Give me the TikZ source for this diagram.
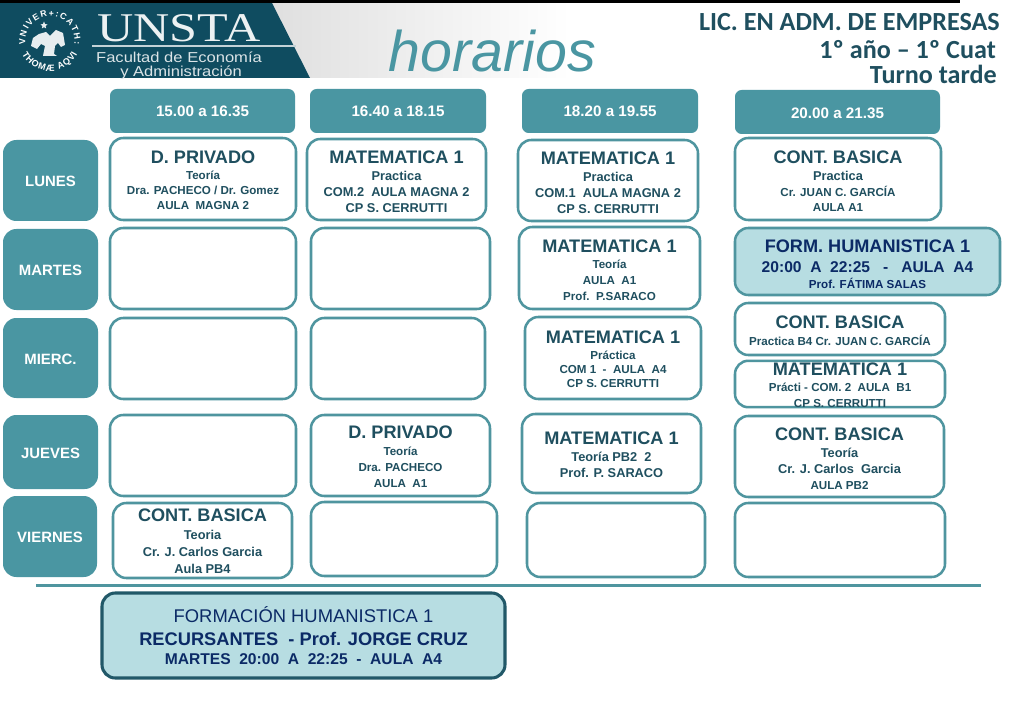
\documentclass[tikz,border=0pt]{standalone}
\usepackage{fontspec}
\setmainfont{Liberation Sans}
\newfontfamily\carlito{Carlito}
\newfontfamily\lserif{Liberation Serif}
\usetikzlibrary{decorations.text}
\definecolor{tealbox}{HTML}{4A96A2}
\definecolor{tealline}{HTML}{4F959F}
\definecolor{darktxt}{HTML}{1F4F5F}
\definecolor{navytxt}{HTML}{0B2A66}
\definecolor{palefill}{HTML}{B7DDE2}
\definecolor{banner}{HTML}{0F4C60}
\definecolor{darkline}{HTML}{215868}
\newcommand{\tA}{\fontsize{13.6}{15}\bfseries\selectfont}
\newcommand{\tB}{\fontsize{9.6}{12}\bfseries\selectfont}
\newcommand{\tC}{\fontsize{8.7}{12}\bfseries\selectfont}
% \dn{n}: moves the text block of a box down by n/2 pt
\newcommand{\dn}[1]{\rule{0pt}{\dimexpr 9.74pt+#1pt\relax}}
\newcommand{\dday}{\rule{0pt}{9.5pt}}
\tikzset{
  x=0.75pt,y=-0.75pt,
  cellbox/.style={draw=tealline,line width=1.9pt,fill=white,rounded corners=10pt,inner sep=0pt,align=center,text=darktxt},
  headbox/.style={fill=tealbox,rounded corners=5pt,inner sep=0pt,text=white,font=\fontsize{11.4}{13}\bfseries\selectfont},
  daybox/.style={fill=tealbox,rounded corners=10pt,inner sep=0pt,text=white,font=\fontsize{11.2}{13}\bfseries\selectfont},
  humbox/.style={cellbox,fill=palefill,text=navytxt},
  recbox/.style={humbox,draw=darkline,line width=2.3pt},
  titletxt/.style={text=darktxt,inner sep=0pt,anchor=east,font=\carlito\fontsize{19.6}{22}\bfseries\selectfont},
  logotxt/.style={inner sep=0pt,xscale=1.15,text=white!85!banner,font=\fontsize{10.8}{11}\selectfont},
  sealtxt/.style={postaction={decorate,decoration={text along path,text align={fit to path},text={#1}}}},
}
% #1 style, #2 name, #3 x0, #4 y0, #5 x1, #6 y1, #7 content
\newcommand{\pxnode}[7]{%
  \pgfmathsetmacro{\cxx}{(#3+#5)/2}\pgfmathsetmacro{\cyy}{(#4+#6)/2}%
  \pgfmathsetmacro{\wdd}{(#5-#3)*0.75}\pgfmathsetmacro{\htt}{(#6-#4)*0.75}%
  \node[#1,minimum width=\wdd pt,minimum height=\htt pt] (#2) at (\cxx,\cyy) {#7};}
\begin{document}
\begin{tikzpicture}
\useasboundingbox (0,0) rectangle (1024,709);
\fill[white] (0,0) rectangle (1024,709);
% banner
\shade[left color=gray!25,right color=white] (270,3) rectangle (570,78);
\fill[banner] (0,3) -- (272,3) -- (310,78) -- (0,78) -- cycle;
\fill[black] (0,0) rectangle (960,3);
\draw[white!75!banner,line width=0.8pt] (92,46) -- (296,46);
\node[inner sep=0pt,xscale=1.23,text=white!92!banner,font=\lserif\fontsize{30.6}{32}\selectfont] (unsta) at (179,28) {UNSTA};
\node[logotxt] (fac) at (179,57.5) {Facultad de Economía};
\node[logotxt] (adm) at (181,72.5) {y Administración};
% seal
\path[sealtxt={|\fontsize{6.6}{8}\bfseries\selectfont\color{white}|VNIVER+:CATH:}]
   (25.6,44.4) arc[start angle=172,end angle=368,radius=24.6];
\path[sealtxt={|\fontsize{6.8}{8}\bfseries\selectfont\color{white}|THOMÆ AQVI}]
   (22,54) arc[start angle=153,end angle=27,radius=31];
\fill[white!90!banner] (46,32) -- (50,36) -- (56,30) -- (63,33) -- (65,45) -- (61,47) -- (58,43) -- (55,46)
   -- (54,54) -- (57,56) -- (43,56) -- (45,46) -- (41,44) -- (37,49) -- (31,46) -- (33,38) -- (39,34) -- cycle;
\fill[white!90!banner] (44,21.5) -- (45,24) -- (47.5,24.5) -- (45.6,26) -- (46.2,28.5) -- (44,27.2) -- (41.8,28.5) -- (42.4,26) -- (40.5,24.5) -- (43,24) -- cycle;
\node[inner sep=0pt,text=tealbox,font=\fontsize{43}{45}\itshape\selectfont] (hor) at (492.5,51) {horarios};
\node[titletxt] (t1) at (1000,22) {LIC. EN ADM. DE EMPRESAS};
\node[titletxt] (t2) at (996,50) {1º año – 1º Cuat};
\node[titletxt] (t3) at (997,74) {Turno tarde};
% time heads
\pxnode{headbox}{h1}{110}{89}{295}{133}{15.00 a 16.35}
\pxnode{headbox}{h2}{310}{89}{486}{133}{16.40 a 18.15}
\pxnode{headbox}{h3}{522}{89}{698}{133}{18.20 a 19.55}
\pxnode{headbox}{h4}{735}{90}{940}{134}{\rule{0pt}{9.8pt}20.00 a 21.35}
% days
\pxnode{daybox}{d1}{3}{140}{98}{221}{\dday LUNES}
\pxnode{daybox}{d2}{3}{229}{98}{310}{\dday MARTES}
\pxnode{daybox}{d3}{3}{318}{98}{398}{\dday MIERC.}
\pxnode{daybox}{d4}{3}{415}{98}{489}{\dday JUEVES}
\pxnode{daybox}{d5}{3}{496}{97}{577}{\dday VIERNES}
% row 1
\pxnode{cellbox}{c11}{110}{138}{296}{220}{{\tA\dn{1.5}D. PRIVADO}\\[0pt]{\tC Teoría}\\[-.75pt]{\tC Dra. PACHECO / Dr. Gomez}\\[-.75pt]{\tC AULA~~MAGNA 2}}
\pxnode{cellbox}{c12}{307}{139}{486}{220}{{\tA\dn{3}MATEMATICA 1}\\[.75pt]{\tB Practica}\\[-.4pt]{\tB COM.2~~AULA MAGNA 2}\\[0pt]{\tB CP S. CERRUTTI}}
\pxnode{cellbox}{c13}{518}{140}{698}{221}{{\tA\dn{3}MATEMATICA 1}\\[.75pt]{\tB Practica}\\[-.4pt]{\tB COM.1~~AULA MAGNA 2}\\[0pt]{\tB CP S. CERRUTTI}}
\pxnode{cellbox}{c14}{735}{138}{941}{220}{{\tA\dn{3}CONT. BASICA}\\[.75pt]{\tB Practica}\\[-.4pt]{\tC Cr. JUAN C. GARCÍA}\\[-1pt]{\tC AULA A1}}
% row 2
\pxnode{cellbox}{c21}{110}{228}{296}{309}{}
\pxnode{cellbox}{c22}{311}{228}{490}{309}{}
\pxnode{cellbox}{c23}{519}{227}{700}{309}{{\tA\dn{3}MATEMATICA 1}\\[0pt]{\tC Teoría}\\[-.5pt]{\tC AULA~~A1}\\[0pt]{\tC Prof.~~P.SARACO}}
\pxnode{humbox}{c24}{735}{228}{1000}{295}{{\tA\dn{4.5}FORM. HUMANISTICA 1}\\[3pt]{\fontsize{11.7}{14}\bfseries\selectfont 20:00~~A~~22:25~~~-~~~AULA~~A4}\\[0pt]{\tC Prof. FÁTIMA SALAS}}
% row 3
\pxnode{cellbox}{c31}{110}{318}{296}{399}{}
\pxnode{cellbox}{c32}{311}{318}{485}{399}{}
\pxnode{cellbox}{c33}{525}{317}{701}{399}{{\tA\dn{1.5}MATEMATICA 1}\\[0pt]{\tC Práctica}\\[-1.5pt]{\tC COM 1~~-~~AULA~~A4}\\[-1.5pt]{\tC CP S. CERRUTTI}}
\pxnode{cellbox}{c34}{735}{303}{945}{355}{{\tA\dn{2.2}CONT. BASICA}\\[1pt]{\tC Practica B4 Cr. JUAN C. GARCÍA}}
\pxnode{cellbox}{c35}{735}{361}{945}{407}{{\tA\dn{1.5}MATEMATICA 1}\\[0pt]{\tC Prácti - COM. 2~~AULA~~B1}\\[-.5pt]{\tC CP S. CERRUTTI}}
% row 4
\pxnode{cellbox}{c41}{110}{415}{296}{496}{}
\pxnode{cellbox}{c42}{311}{415}{490}{496}{{\tA\dn{1.5}D. PRIVADO}\\[.75pt]{\tC Teoría}\\[-.5pt]{\tC Dra. PACHECO}\\[0pt]{\tC AULA~~A1}}
\pxnode{cellbox}{c43}{522}{414}{701}{493}{{\tA\dn{1.5}MATEMATICA 1}\\[.75pt]{\tB Teoría PB2~~2}\\[.4pt]{\tB Prof. P. SARACO}}
\pxnode{cellbox}{c44}{735}{416}{944}{497}{{\tA\dn{3}CONT. BASICA}\\[.75pt]{\tB Teoría}\\[-.5pt]{\tB Cr. J. Carlos~~Garcia}\\[0pt]{\tC AULA PB2}}
% row 5
\pxnode{cellbox}{c51}{113}{503}{292}{578}{{\tA\dn{1.5}CONT. BASICA}\\[1.5pt]{\tB Teoria}\\[.75pt]{\tB Cr. J. Carlos Garcia}\\[.75pt]{\tB Aula PB4}}
\pxnode{cellbox}{c52}{311}{502}{497}{576}{}
\pxnode{cellbox}{c53}{527}{503}{705}{577}{}
\pxnode{cellbox}{c54}{735}{503}{945}{577}{}
% rule
\coordinate (ruleL) at (36,585.5);
\coordinate (ruleR) at (981,585.5);
\draw[tealline,line width=1.9pt] (ruleL) -- (ruleR);
% recursantes
\pxnode{recbox}{rec}{102}{593}{505}{678}{{\fontsize{13.8}{16}\selectfont FORMACIÓN HUMANISTICA 1}\\[5pt]{\fontsize{13.7}{16}\bfseries\selectfont RECURSANTES~~- Prof. JORGE CRUZ}\\[2.5pt]{\fontsize{11.7}{14}\bfseries\selectfont MARTES~~20:00~~A~~22:25~~-~~AULA~~A4}}
\end{tikzpicture}
\end{document}
